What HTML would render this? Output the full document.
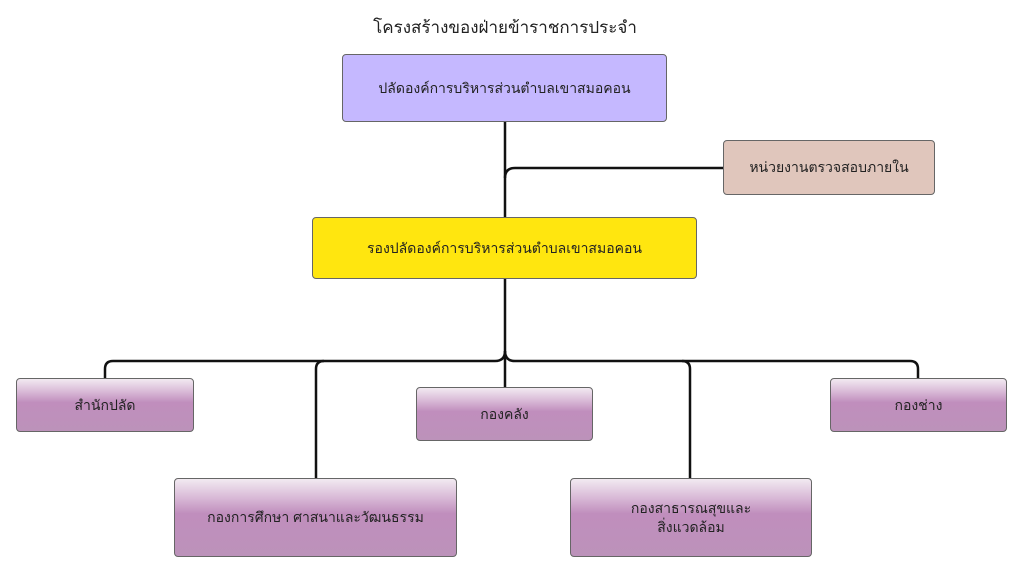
<!DOCTYPE html>
<html><head><meta charset="utf-8"><style>
body{margin:0;width:1024px;height:576px;background:#fff;position:relative;overflow:hidden;font-family:"Liberation Sans","Noto Sans CJK SC",sans-serif;}
.b{position:absolute;box-sizing:border-box;border:1px solid #666;border-radius:4px;display:flex;align-items:center;justify-content:center;text-align:center;font-size:14px;color:#222;line-height:1.3;}
.p{background:linear-gradient(#f2eaf1 0%,#d8b8d6 25%,#c08ebd 45%,#bc92ba 100%);}
</style></head><body>
<svg width="1024" height="576" style="position:absolute;left:0;top:0" fill="none" stroke="#111" stroke-width="2.5">
<path d="M505 122V217"/>
<path d="M505 178Q505 168 515 168H723"/>
<path d="M505 279V387"/>
<path d="M105 378V369Q105 361 113 361H495Q505 361 505 351"/>
<path d="M505 351Q505 361 515 361H910Q918 361 918 369V378"/>
<path d="M316 478V369Q316 361 324 361"/>
<path d="M690 478V369Q690 361 682 361"/>
</svg>
<div style="position:absolute;left:0;width:1010px;top:14px;text-align:center;font-size:17px;color:#222">โครงสร้างของฝ่ายข้าราชการประจำ</div>
<div class="b" style="left:342px;top:54px;width:325px;height:68px;background:#c5b8ff">ปลัดองค์การบริหารส่วนตำบลเขาสมอคอน</div>
<div class="b" style="left:723px;top:140px;width:212px;height:55px;background:#e0c6bc">หน่วยงานตรวจสอบภายใน</div>
<div class="b" style="left:312px;top:217px;width:385px;height:62px;background:#ffe60f">รองปลัดองค์การบริหารส่วนตำบลเขาสมอคอน</div>
<div class="b p" style="left:16px;top:378px;width:178px;height:54px">สำนักปลัด</div>
<div class="b p" style="left:416px;top:387px;width:177px;height:54px">กองคลัง</div>
<div class="b p" style="left:830px;top:378px;width:177px;height:54px">กองช่าง</div>
<div class="b p" style="left:174px;top:478px;width:283px;height:79px">กองการศึกษา ศาสนาและวัฒนธรรม</div>
<div class="b p" style="left:570px;top:478px;width:242px;height:79px">กองสาธารณสุขและ<br>สิ่งแวดล้อม</div>
</body></html>
